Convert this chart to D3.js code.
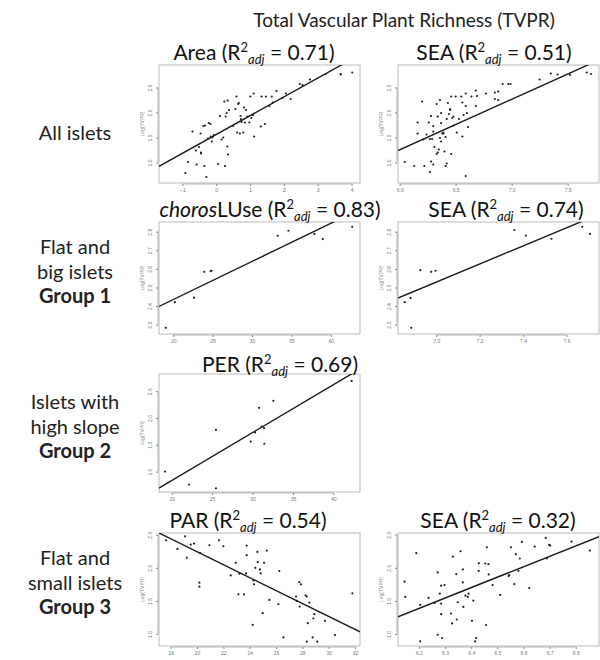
<!DOCTYPE html>
<html>
<head>
<meta charset="utf-8">
<script src="https://cdn.jsdelivr.net/npm/d3@7"></script>
<style>
  body { margin: 0; background: #fff; }
  svg { display: block; font-family: Lato, "Open Sans", sans-serif; }
  .tick text { font-size: 5px; fill: #777; font-family: "Liberation Sans", sans-serif; }
  .tick line { stroke: #888; }
</style>
</head>
<body>
<svg width="600" height="660"></svg>
<script>
/* DATA */
// All islets, Log(Area)
var areaX = [-0.91,-0.83,-0.70,-0.60,-0.58,-0.51,-0.46,-0.45,-0.45,-0.38,-0.35,-0.33,-0.29,-0.24,-0.22,-0.17,-0.16,-0.13,-0.11,-0.07,
  0.06,0.11,0.16,0.21,0.24,0.26,0.28,0.31,0.33,0.34,0.35,0.38,0.50,0.57,0.60,0.62,0.65,0.67,0.70,0.72,0.73,0.75,0.80,0.82,0.85,0.88,
  0.92,0.98,1.01,1.04,1.09,1.11,1.12,1.32,1.34,1.44,1.47,1.57,1.64,1.67,1.78,1.96,2.06,2.20,2.47,2.55,2.77,3.24,3.68,3.68,4.02];
var areaY = [0.79,1.01,1.62,1.24,0.96,1.31,1.58,1.20,1.18,1.73,0.93,1.74,0.71,1.48,1.79,1.77,1.52,1.42,1.50,1.55,
  0.97,1.93,1.46,1.50,2.22,0.93,1.92,1.99,1.32,2.24,1.16,2.05,1.73,2.07,2.32,1.60,2.17,2.19,1.58,1.93,1.87,1.81,1.60,2.10,1.80,2.05,
  1.92,1.80,2.32,1.89,1.95,2.38,1.52,1.72,2.32,1.77,2.32,2.13,2.32,2.20,2.43,2.29,2.38,2.27,2.57,2.55,2.66,2.77,2.76,2.77,2.80];
// All islets, SEA
var seaAllX = [6.045,6.13,6.16,6.16,6.20,6.21,6.22,6.24,6.26,6.27,6.27,6.28,6.28,6.29,6.30,6.30,6.30,6.31,6.33,6.33,6.34,6.34,6.35,
  6.36,6.36,6.37,6.37,6.37,6.38,6.39,6.39,6.40,6.41,6.41,6.42,6.42,6.43,6.44,6.45,6.45,6.46,6.46,6.47,6.48,6.48,6.50,6.51,6.53,6.55,
  6.56,6.56,6.57,6.59,6.59,6.59,6.60,6.61,6.64,6.68,6.69,6.68,6.77,6.85,6.85,6.88,6.88,6.92,6.97,6.99,7.25,7.35,7.41,7.52,7.67,7.71];
var seaAllY = [1.01,0.93,1.80,1.58,2.22,1.46,0.93,1.56,1.80,1.47,0.81,1.93,1.02,1.47,0.96,1.73,1.62,1.31,1.17,2.17,1.20,1.92,1.26,
  2.25,1.49,1.99,1.42,1.79,1.58,1.60,1.58,1.22,0.93,1.51,1.87,0.98,2.19,1.97,2.07,2.05,1.17,2.32,1.89,1.92,1.74,2.32,1.60,1.87,2.32,
  1.52,2.20,1.95,2.38,2.13,0.73,1.99,1.71,2.32,2.44,2.33,2.13,2.38,2.40,2.27,2.42,2.25,2.57,2.57,2.57,2.66,2.78,2.76,2.75,2.80,2.77];
// Group 1, chorosLUse
var chorosX = [19.07,20.21,22.63,23.94,24.75,24.87,33.26,34.62,37.92,38.98,42.71];
var chorosY = [2.283,2.421,2.445,2.584,2.588,2.590,2.778,2.805,2.788,2.760,2.826];
// Group 1, SEA
var seaG1X = [6.855,6.882,6.885,6.927,6.977,6.997,7.360,7.413,7.531,7.673,7.709];
var seaG1Y = [2.421,2.443,2.283,2.593,2.584,2.590,2.809,2.779,2.762,2.826,2.788];
// Group 2, PER
var perX = [19.18,22.14,25.48,25.48,29.77,30.31,30.80,31.13,31.42,31.46,32.58,42.27];
var perY = [1.00,0.76,1.78,0.69,1.56,1.73,2.19,1.84,1.81,1.52,2.32,2.69];
// Group 3, PAR
var parX = [17.65,18.51,19.09,19.22,19.52,19.77,20.18,20.18,20.23,20.94,21.67,22.0,22.56,22.94,23.14,23.22,23.57,23.72,23.77,23.77,
  24.23,24.28,24.33,24.43,24.58,24.61,24.78,24.84,24.99,25.09,25.29,25.49,26.18,26.25,26.56,27.52,27.57,27.77,27.80,27.90,28.25,
  28.33,28.41,28.33,28.53,28.78,28.84,28.91,29.14,29.72,30.48,31.80];
var parY = [2.415,2.285,2.475,2.15,2.35,2.365,1.775,1.715,2.225,2.34,2.415,2.325,1.885,2.075,1.60,1.91,1.60,1.915,2.335,2.19,
  1.14,1.81,1.75,2.0,2.24,2.085,1.975,1.915,1.315,2.075,2.26,1.515,1.45,1.95,0.95,1.565,1.50,1.785,1.415,1.75,1.585,
  1.565,1.165,0.885,1.475,0.95,1.235,1.30,0.885,1.20,0.985,1.615];
// Group 3, SEA
var seaG3X = [6.145,6.148,6.19,6.205,6.205,6.237,6.26,6.272,6.272,6.28,6.285,6.285,6.285,6.289,6.298,6.323,6.327,6.33,6.343,6.345,
  6.349,6.359,6.368,6.368,6.37,6.378,6.387,6.39,6.403,6.408,6.415,6.419,6.429,6.429,6.454,6.457,6.46,6.466,6.467,6.482,6.511,6.543,
  6.546,6.552,6.565,6.571,6.581,6.586,6.594,6.622,6.643,6.685,6.689,6.698,6.702,6.784,6.854];
var seaG3Y = [1.79,1.56,2.22,0.89,1.44,1.545,1.47,0.99,1.93,1.61,1.73,1.46,1.30,0.94,1.74,1.31,1.16,2.17,1.905,1.22,
  1.48,2.25,1.975,1.78,1.41,1.58,1.56,1.61,1.20,1.505,0.89,0.94,2.07,1.955,2.065,1.135,2.31,2.055,1.90,1.74,1.59,1.875,
  1.89,2.31,1.755,2.205,1.955,2.14,2.39,1.695,2.32,2.45,2.14,2.345,2.335,2.395,2.26];

// fitted lines: [intercept, slope]
var fitArea = [1.56, 0.376];
var fitSeaAll = [-4.799, 1.009];
var fitChoros = [2.025, 0.0205];
var fitSeaG1 = [-0.873, 0.486];
var fitPer = [-0.952, 0.0893];
var fitPar = [4.195, -0.0976];
var fitSeaG3 = [-8.353, 1.571];

// axis domains and ticks
var domArea = [-1.69, 4.25], ticksArea = [-1, 0, 1, 2, 3, 4];
var domSeaAll = [5.985, 7.78], ticksSeaAll = [6.0, 6.5, 7.0, 7.5];
var domChoros = [18.2, 43.7], ticksChoros = [20, 25, 30, 35, 40];
var domSeaG1 = [6.824, 7.75], ticksSeaG1 = [7.0, 7.2, 7.4, 7.6];
var domPer = [18.43, 43.3], ticksPer = [20, 25, 30, 35, 40];
var domPar = [17.11, 32.38], ticksPar = [18, 20, 22, 24, 26, 28, 30, 32];
var domSeaG3 = [6.12, 6.889], ticksSeaG3 = [6.2, 6.3, 6.4, 6.5, 6.6, 6.7, 6.8];

var domYRow1 = [0.59, 2.95], ticksYRow1 = [1.0, 1.5, 2.0, 2.5];
var domYRow2 = [2.25, 2.852], ticksYRow2 = [2.3, 2.4, 2.5, 2.6, 2.7, 2.8];
var domYRow3 = [0.62, 2.82], ticksYRow3 = [1.0, 1.5, 2.0, 2.5];
var domYRow4 = [0.82, 2.525], ticksYRow4 = [1.0, 1.5, 2.0, 2.5];

var titles = [
  { name: "Area", r2: "0.71" },
  { name: "SEA", r2: "0.51" },
  { italic: "choros", name: "LUse", r2: "0.83" },
  { name: "SEA", r2: "0.74" },
  { name: "PER", r2: "0.69" },
  { name: "PAR", r2: "0.54" },
  { name: "SEA", r2: "0.32" }
];

var groupLabels = [
  ["All islets"],
  ["Flat and", "big islets", "Group 1"],
  ["Islets with", "high slope", "Group 2"],
  ["Flat and", "small islets", "Group 3"]
];

/* LAYOUT */
var cols = [[159, 360], [398, 599]];
var rows = [[65, 183], [222, 334], [374, 492], [533, 646]];
var titleX = [[254, 494], [270, 506], [280, 0], [248, 498]];
var titleY = [60, 217, 372, 528];
var labelY = [[140], [254, 279, 303], [409, 434, 458], [565, 590, 614]];

var panels = [
  { r: 0, c: 0, xs: areaX, ys: areaY, fit: fitArea, xd: domArea, xt: ticksArea, xf: "d", yd: domYRow1, yt: ticksYRow1, t: titles[0] },
  { r: 0, c: 1, xs: seaAllX, ys: seaAllY, fit: fitSeaAll, xd: domSeaAll, xt: ticksSeaAll, xf: ".1f", yd: domYRow1, yt: ticksYRow1, t: titles[1] },
  { r: 1, c: 0, xs: chorosX, ys: chorosY, fit: fitChoros, xd: domChoros, xt: ticksChoros, xf: "d", yd: domYRow2, yt: ticksYRow2, t: titles[2] },
  { r: 1, c: 1, xs: seaG1X, ys: seaG1Y, fit: fitSeaG1, xd: domSeaG1, xt: ticksSeaG1, xf: ".1f", yd: domYRow2, yt: ticksYRow2, t: titles[3] },
  { r: 2, c: 0, xs: perX, ys: perY, fit: fitPer, xd: domPer, xt: ticksPer, xf: "d", yd: domYRow3, yt: ticksYRow3, t: titles[4] },
  { r: 3, c: 0, xs: parX, ys: parY, fit: fitPar, xd: domPar, xt: ticksPar, xf: "d", yd: domYRow4, yt: ticksYRow4, t: titles[5] },
  { r: 3, c: 1, xs: seaG3X, ys: seaG3Y, fit: fitSeaG3, xd: domSeaG3, xt: ticksSeaG3, xf: ".1f", yd: domYRow4, yt: ticksYRow4, t: titles[6] }
];

var svg = d3.select("svg");

// main title
svg.append("text")
  .attr("x", 404).attr("y", 27)
  .attr("text-anchor", "middle")
  .style("font-size", "19px")
  .style("fill", "#222")
  .text("Total Vascular Plant Richness (TVPR)");

// group labels on the left
groupLabels.forEach(function (lines, i) {
  lines.forEach(function (line, j) {
    svg.append("text")
      .attr("x", 75).attr("y", labelY[i][j])
      .attr("text-anchor", "middle")
      .style("font-size", "20px")
      .style("font-weight", line.indexOf("Group") === 0 ? "bold" : "normal")
      .style("fill", "#222")
      .text(line);
  });
});

panels.forEach(function (p, i) {
  var x0 = cols[p.c][0], x1 = cols[p.c][1];
  var y0 = rows[p.r][0], y1 = rows[p.r][1];
  var x = d3.scaleLinear().domain(p.xd).range([x0, x1]);
  var y = d3.scaleLinear().domain(p.yd).range([y1, y0]);
  var g = svg.append("g");

  // clip for the fit line
  svg.append("clipPath").attr("id", "clip" + i)
    .append("rect").attr("x", x0).attr("y", y0).attr("width", x1 - x0).attr("height", y1 - y0);

  // box
  g.append("rect")
    .attr("x", x0).attr("y", y0).attr("width", x1 - x0).attr("height", y1 - y0)
    .attr("fill", "none").attr("stroke", "#aaa").attr("stroke-width", 0.8);

  // axes (R style: axis line only between first and last tick)
  var xa = g.append("g").attr("transform", "translate(0," + (y1 + 1) + ")")
    .call(d3.axisBottom(x).tickValues(p.xt).tickSize(2).tickPadding(2).tickFormat(d3.format(p.xf)));
  xa.select(".domain").remove();
  xa.append("line")
    .attr("x1", x(p.xt[0])).attr("x2", x(p.xt[p.xt.length - 1]))
    .attr("stroke", "#888").attr("stroke-width", 0.6);

  var ya = g.append("g").attr("transform", "translate(" + (x0 - 1) + ",0)")
    .call(d3.axisLeft(y).tickValues(p.yt).tickSize(2).tickPadding(2).tickFormat(d3.format(".1f")));
  ya.select(".domain").remove();
  ya.append("line")
    .attr("y1", y(p.yt[0])).attr("y2", y(p.yt[p.yt.length - 1]))
    .attr("stroke", "#888").attr("stroke-width", 0.6);
  ya.selectAll(".tick text")
    .attr("text-anchor", "middle")
    .attr("x", 0).attr("dy", 0)
    .attr("transform", "translate(-6,0) rotate(-90)");

  // y axis title
  g.append("text")
    .attr("transform", "translate(" + (x0 - 15) + "," + ((y0 + y1) / 2) + ") rotate(-90)")
    .attr("text-anchor", "middle")
    .style("font-size", "5px").style("fill", "#888")
    .style("font-family", "Liberation Sans, sans-serif")
    .text("Log(TVPR)");

  // fitted line
  g.append("line")
    .attr("clip-path", "url(#clip" + i + ")")
    .attr("x1", x(p.xd[0])).attr("y1", y(p.fit[0] + p.fit[1] * p.xd[0]))
    .attr("x2", x(p.xd[1])).attr("y2", y(p.fit[0] + p.fit[1] * p.xd[1]))
    .attr("stroke", "#1a1a1a").attr("stroke-width", 1.4);

  // points
  g.selectAll("circle")
    .data(p.xs.map(function (v, k) { return [v, p.ys[k]]; }))
    .enter()
    .append("circle")
    .attr("cx", function (d) { return x(d[0]); })
    .attr("cy", function (d) { return y(d[1]); })
    .attr("r", 1.1)
    .attr("fill", "#222");

  // panel title
  var t = svg.append("text")
    .attr("x", titleX[p.r][p.c]).attr("y", titleY[p.r])
    .attr("text-anchor", "middle")
    .style("font-size", "21px")
    .style("fill", "#111");
  if (p.t.italic) t.append("tspan").style("font-style", "italic").text(p.t.italic);
  t.append("tspan").text(p.t.name + " (R");
  t.append("tspan").attr("dy", -8).style("font-size", "13px").text("2");
  t.append("tspan").attr("dy", 12).style("font-size", "13px").style("font-style", "italic").text("adj");
  t.append("tspan").attr("dy", -4).text(" = " + p.t.r2 + ")");
});
</script>
</body>
</html>
